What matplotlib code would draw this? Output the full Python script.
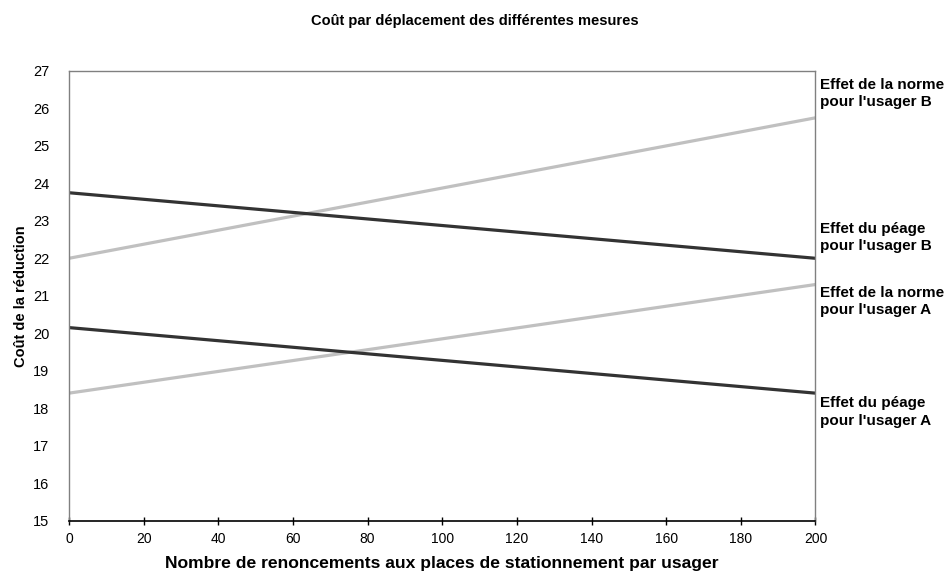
import matplotlib
matplotlib.use('Agg')
import matplotlib.pyplot as plt

plt.rcParams['font.family'] = ['Liberation Sans', 'DejaVu Sans']

# Data
x_ends = [0, 200]
norme_b = [22.0, 25.75]
peage_b = [23.75, 22.0]
norme_a = [18.4, 21.3]
peage_a = [20.15, 18.4]

series = [
    ('Effet de la norme\npour l\'usager B', norme_b, '#c0c0c0', 26.4),
    ('Effet du péage\npour l\'usager B', peage_b, '#333333', 22.55),
    ('Effet de la norme\npour l\'usager A', norme_a, '#c0c0c0', 20.85),
    ('Effet du péage\npour l\'usager A', peage_a, '#333333', 17.9),
]

x_ticks = list(range(0, 201, 20))
y_ticks = list(range(15, 28))

fig = plt.figure(figsize=(9.49, 5.72), dpi=100)
ax = fig.add_axes([0.0727, 0.09, 0.7866, 0.7859])

for label, vals, color, label_y in series:
    ax.plot(x_ends, vals, color=color, lw=2.3, solid_capstyle='butt')
    ax.text(1.006, label_y, label, transform=ax.get_yaxis_transform(),
            fontsize=11, fontweight='bold', va='center', ha='left',
            linespacing=1.3)

ax.set_xlim(0, 200)
ax.set_ylim(15, 27)
ax.set_xticks(x_ticks)
ax.set_yticks(y_ticks)
ax.tick_params(axis='x', direction='inout', length=6, width=1, labelsize=10, pad=5, colors='black')
ax.tick_params(axis='y', length=0, labelsize=10.5, pad=14)

for side in ['left', 'top', 'right']:
    ax.spines[side].set_color('#808080')
    ax.spines[side].set_linewidth(1)
ax.spines['bottom'].set_color('black')
ax.spines['bottom'].set_linewidth(1.2)

# x label sits at the very bottom edge, as in the reference
fig.text(0.4659, 0.001, "Nombre de renoncements aux places de stationnement par usager",
         fontsize=12.6, fontweight='bold', ha='center', va='bottom')
ax.set_ylabel("Coût de la réduction", fontsize=10.5, fontweight='bold', labelpad=4)
fig.suptitle("Coût par déplacement des différentes mesures", fontsize=10.5,
             fontweight='bold', x=0.5, y=0.975)

fig.savefig('out.png', dpi=100)
